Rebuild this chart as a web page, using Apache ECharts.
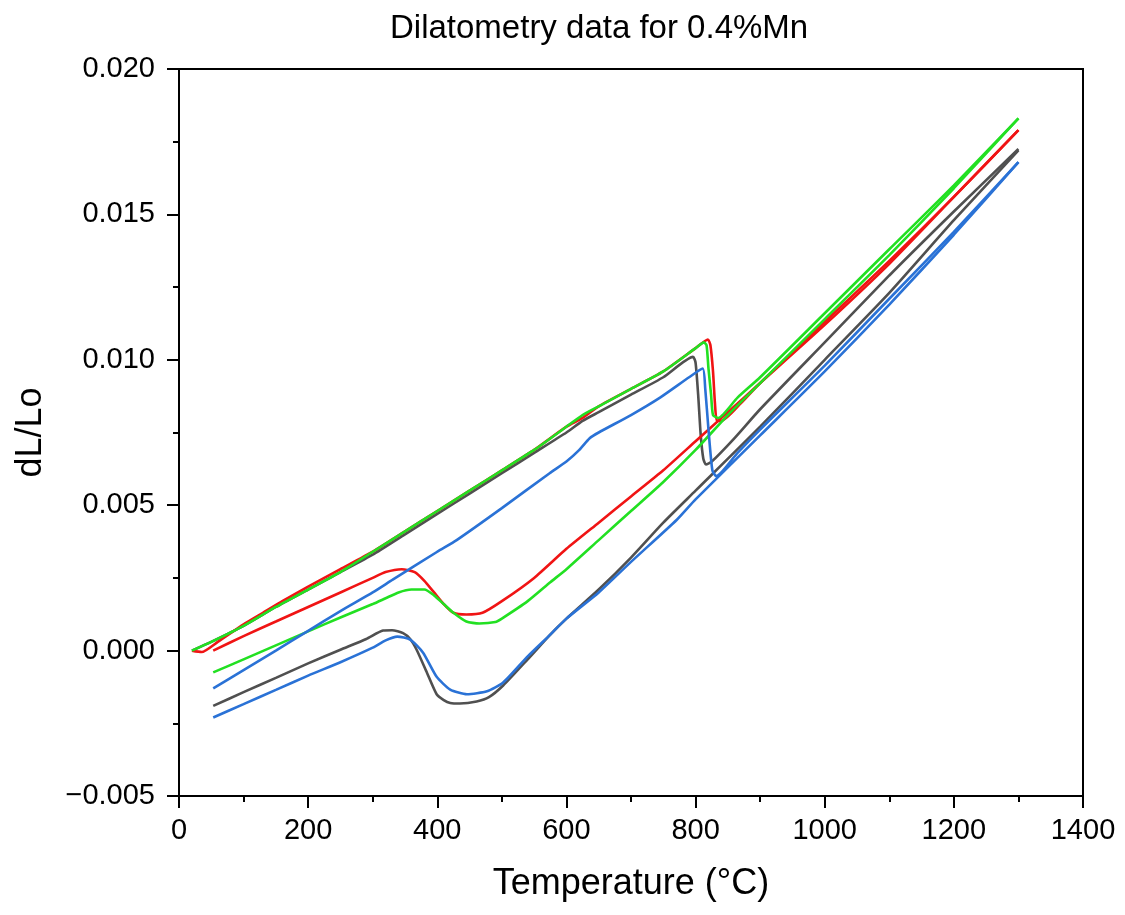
<!DOCTYPE html>
<html>
<head>
<meta charset="utf-8">
<script src="https://cdn.jsdelivr.net/npm/echarts@6/dist/echarts.min.js"></script>
<style>
  html, body { margin: 0; padding: 0; background: #fff; }
  #chart { width: 1125px; height: 915px; }
</style>
</head>
<body>
<div id="chart"></div>
<script>
  // [temperature °C, dL/Lo]
  const redHeat = [[20,0],[35,-0.00005],[60,0.0003],[100,0.0009],[130,0.0013],[160,0.0017],[200,0.0022],[250,0.0028],[300,0.0034],[350,0.0041],[400,0.0048],[450,0.0055],[500,0.0062],[550,0.0069],[600,0.0077],[625,0.0080],[650,0.0084],[700,0.0090],[750,0.0096],[800,0.0104],[819,0.0107],[823,0.0105],[827,0.0096],[830,0.0085],[833,0.0079],[840,0.0079],[870,0.0085],[900,0.0092],[1000,0.0113],[1100,0.0134],[1200,0.0156],[1300,0.0179]];
  const redCool = [[1300,0.0179],[1200,0.0156],[1100,0.0133],[1000,0.0112],[900,0.0092],[850,0.0082],[800,0.0072],[750,0.0062],[700,0.0053],[650,0.0044],[600,0.0035],[550,0.0025],[500,0.0017],[470,0.0013],[445,0.00124],[425,0.0013],[410,0.0016],[395,0.0020],[380,0.0024],[365,0.0027],[345,0.0028],[320,0.0027],[300,0.0025],[250,0.0020],[200,0.0015],[150,0.0010],[100,0.0005],[53,0.0000]];

  const greenHeat = [[20,0],[50,0.0003],[100,0.00085],[150,0.0015],[200,0.0021],[250,0.0027],[300,0.0034],[350,0.0041],[400,0.0048],[450,0.0055],[500,0.0062],[550,0.0069],[600,0.0077],[625,0.0081],[650,0.0084],[700,0.0090],[750,0.0096],[800,0.0104],[813,0.0106],[817,0.0105],[820,0.0097],[824,0.0088],[827,0.0081],[835,0.0080],[865,0.0087],[900,0.0094],[1000,0.0116],[1100,0.0138],[1200,0.0160],[1300,0.0183]];
  const greenCool = [[1300,0.0183],[1200,0.0159],[1100,0.0136],[1000,0.0114],[900,0.0092],[850,0.0081],[800,0.0069],[750,0.0058],[700,0.0048],[650,0.0038],[600,0.0028],[575,0.00235],[540,0.0017],[500,0.0011],[490,0.00098],[465,0.00093],[445,0.0010],[425,0.0013],[410,0.0016],[395,0.0019],[380,0.0021],[360,0.0021],[340,0.0020],[320,0.0018],[300,0.0016],[250,0.00114],[200,0.00066],[150,0.00018],[100,-0.0003],[53,-0.00075]];

  const grayHeat = [[20,0],[50,0.0003],[100,0.00085],[150,0.0015],[200,0.0021],[250,0.0027],[300,0.0033],[350,0.0040],[400,0.0047],[450,0.0054],[500,0.0061],[550,0.0068],[600,0.0075],[625,0.0079],[650,0.0082],[700,0.0088],[750,0.0094],[796,0.0101],[800,0.0099],[804,0.0088],[808,0.0074],[812,0.0066],[816,0.0064],[825,0.0065],[860,0.0073],[900,0.0083],[1000,0.0106],[1100,0.0129],[1200,0.0151],[1300,0.01725]];
  const grayCool = [[1300,0.0172],[1200,0.0148],[1100,0.0123],[1000,0.0100],[900,0.0077],[800,0.0055],[750,0.0044],[700,0.0032],[650,0.0021],[600,0.0011],[575,0.00055],[540,-0.0003],[502,-0.0012],[480,-0.0016],[461,-0.00175],[435,-0.00182],[420,-0.0018],[410,-0.0017],[399,-0.0015],[384,-0.00076],[368,0.00003],[358,0.0004],[347,0.0006],[330,0.0007],[316,0.00069],[290,0.0004],[250,0.00003],[200,-0.00044],[150,-0.00094],[100,-0.00143],[53,-0.0019]];

  const blueHeat = [[53,-0.0013],[100,-0.00067],[150,0.0000],[200,0.00068],[250,0.00136],[300,0.0020],[331,0.00244],[400,0.0034],[430,0.0038],[500,0.0049],[574,0.0061],[600,0.0065],[620,0.0069],[636,0.0073],[650,0.0075],[700,0.0081],[745,0.0087],[790,0.0094],[811,0.0097],[815,0.0090],[820,0.0076],[826,0.0062],[832,0.0060],[865,0.0068],[900,0.0076],[1000,0.0098],[1100,0.0121],[1200,0.0144],[1300,0.0168]];
  const blueCool = [[1300,0.0168],[1200,0.0143],[1100,0.0119],[1000,0.0096],[900,0.0074],[800,0.0052],[771,0.0045],[700,0.00305],[650,0.0020],[600,0.0011],[575,0.00055],[540,-0.0002],[502,-0.0011],[477,-0.0014],[446,-0.0015],[420,-0.00134],[399,-0.0009],[378,-0.00007],[358,0.00038],[338,0.00048],[320,0.00035],[300,0.0001],[250,-0.0004],[200,-0.00086],[150,-0.00135],[100,-0.00184],[53,-0.0023]];

  const colors = {gray: '#505050', red: '#f01414', green: '#22e022', blue: '#2a72d6'};
  const font = '"Liberation Sans", Arial, sans-serif';

  const chart = echarts.init(document.getElementById('chart'));

  function curve(name, data) {
    return {
      name: name,
      type: 'line',
      data: data,
      showSymbol: false,
      silent: true,
      smooth: 0.2,
      lineStyle: {color: colors[name], width: 2.6},
      itemStyle: {color: colors[name]}
    };
  }

  chart.setOption({
    animation: false,
    title: {
      text: 'Dilatometry data for 0.4%Mn',
      left: 385,
      top: 7,
      textStyle: {fontFamily: font, fontSize: 33, fontWeight: 'normal', color: '#000'}
    },
    grid: {
      left: 179, right: 42, top: 69, bottom: 119,
      show: true, borderColor: '#000', borderWidth: 2
    },
    xAxis: {
      type: 'value',
      min: 0, max: 1400, interval: 200,
      name: 'Temperature (°C)',
      nameLocation: 'middle',
      nameGap: 70,
      nameTextStyle: {fontFamily: font, fontSize: 36, color: '#000'},
      axisLine: {show: true, onZero: false, lineStyle: {color: '#000', width: 2}},
      axisTick: {show: true, inside: false, length: 12, lineStyle: {color: '#000', width: 2}},
      minorTick: {show: true, splitNumber: 2, length: 6, lineStyle: {color: '#000', width: 2}},
      splitLine: {show: false},
      axisLabel: {fontFamily: font, fontSize: 29, color: '#000', margin: 20, formatter: v => String(v)}
    },
    yAxis: {
      type: 'value',
      min: -0.005, max: 0.02, interval: 0.005,
      name: 'dL/Lo',
      nameLocation: 'middle',
      nameGap: 130,
      nameTextStyle: {fontFamily: font, fontSize: 36, color: '#000'},
      axisLine: {show: true, onZero: false, lineStyle: {color: '#000', width: 2}},
      axisTick: {show: true, inside: false, length: 12, lineStyle: {color: '#000', width: 2}},
      minorTick: {show: true, splitNumber: 2, length: 6, lineStyle: {color: '#000', width: 2}},
      splitLine: {show: false},
      axisLabel: {
        fontFamily: font, fontSize: 29, color: '#000', margin: 24,
        formatter: v => (v < 0 ? '\u2212' : '') + Math.abs(v).toFixed(3)
      }
    },
    series: [
      curve('gray', grayHeat), curve('gray', grayCool),
      curve('red', redHeat), curve('red', redCool),
      curve('green', greenHeat), curve('green', greenCool),
      curve('blue', blueHeat), curve('blue', blueCool)
    ]
  });
</script>
</body>
</html>
